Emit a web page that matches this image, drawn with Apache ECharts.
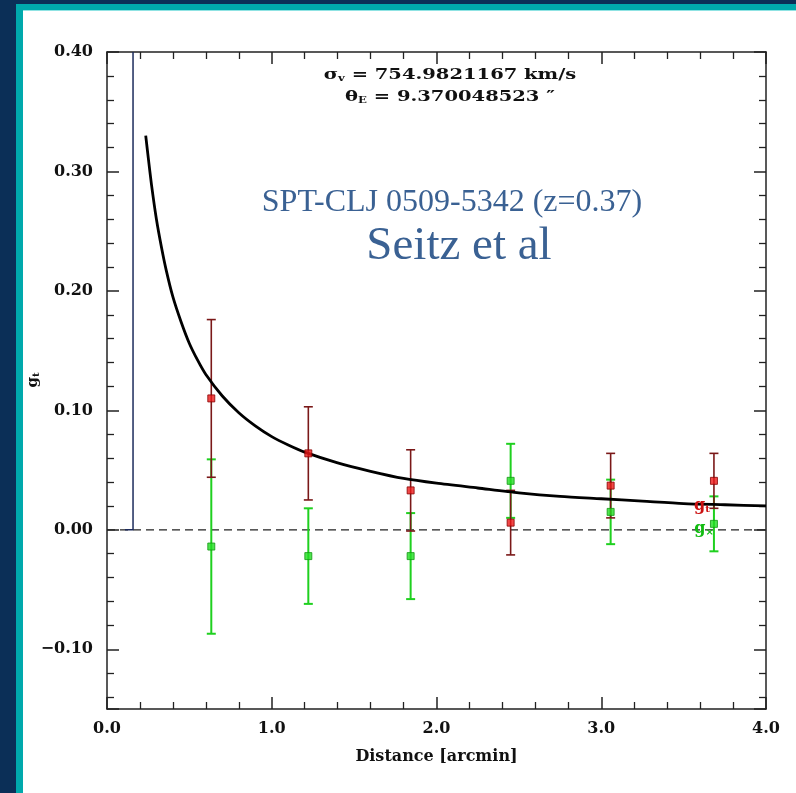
<!DOCTYPE html>
<html>
<head>
<meta charset="utf-8">
<script src="https://cdn.jsdelivr.net/npm/echarts@6/dist/echarts.min.js"></script>
<style>
html,body{margin:0;padding:0;background:#fff;}
#chart{width:796px;height:793px;}
</style>
</head>
<body>
<div id="chart"></div>
<script>
// ---- Data ----
const binX   = [0.633, 1.222, 1.843, 2.450, 3.057, 3.684];
const gT     = [0.110, 0.064, 0.033, 0.006, 0.037, 0.041];
const gTErr  = [0.066, 0.039, 0.034, 0.027, 0.027, 0.023];
const gX     = [-0.014, -0.022, -0.022, 0.041, 0.015, 0.005];
const gXErr  = [0.073, 0.040, 0.036, 0.031, 0.027, 0.023];
const modelX = [0.235, 0.25, 0.27, 0.30, 0.33, 0.36, 0.40, 0.45, 0.50, 0.55, 0.60, 0.70, 0.80, 0.90, 1.00, 1.10, 1.20, 1.40, 1.60, 1.80, 2.00, 2.25, 2.50, 2.75, 3.00, 3.25, 3.50, 3.75, 4.00];
const modelY = [0.330, 0.312, 0.289, 0.260, 0.237, 0.217, 0.195, 0.174, 0.156, 0.142, 0.130, 0.112, 0.098, 0.087, 0.078, 0.071, 0.065, 0.056, 0.049, 0.043, 0.039, 0.035, 0.031, 0.028, 0.026, 0.024, 0.022, 0.021, 0.020];
const thetaELineX = [0.109, 0.158, 0.158];
const thetaELineY = [0.0, 0.0, 0.40];
const zeroLineX = [0, 4];
const zeroLineY = [0, 0];
const xTicks = [0, 1, 2, 3, 4];
const yRange = [-0.15, 0.40];

// ---- Build ----
const chart = echarts.init(document.getElementById('chart'), null, {renderer: 'canvas'});
const tickFont = {fontFamily: 'DejaVu Serif', fontWeight: 'bold', fontSize: 16, color: '#111'};
const axisCol = '#222';

function errData(xs, vs, es) { return xs.map((x, i) => [x, vs[i] - es[i], vs[i] + es[i]]); }
function errRender(color, width) {
  return function (params, api) {
    const x = api.value(0);
    const lo = api.coord([x, api.value(1)]);
    const hi = api.coord([x, api.value(2)]);
    const hw = 4.5;
    const st = {stroke: color, lineWidth: width};
    return {type: 'group', children: [
      {type: 'line', shape: {x1: lo[0], y1: lo[1], x2: hi[0], y2: hi[1]}, style: st},
      {type: 'line', shape: {x1: lo[0] - hw, y1: lo[1], x2: lo[0] + hw, y2: lo[1]}, style: st},
      {type: 'line', shape: {x1: hi[0] - hw, y1: hi[1], x2: hi[0] + hw, y2: hi[1]}, style: st}
    ]};
  };
}
function pairs(xs, ys) { return xs.map((x, i) => [x, ys[i]]); }

const baseX = {
  type: 'value', min: xTicks[0], max: xTicks[xTicks.length - 1], interval: 1,
  axisLine: {show: true, onZero: false, lineStyle: {color: axisCol, width: 1.5}},
  axisTick: {show: true, inside: true, length: 12, lineStyle: {color: axisCol, width: 1.5}},
  minorTick: {show: true, splitNumber: 5, length: 7, lineStyle: {color: axisCol, width: 1.3}},
  splitLine: {show: false}
};
const baseY = {
  type: 'value', min: yRange[0], max: yRange[1], splitNumber: 5,
  axisLine: {show: true, onZero: false, lineStyle: {color: axisCol, width: 1.5}},
  axisTick: {show: true, inside: true, length: 12, lineStyle: {color: axisCol, width: 1.5}},
  minorTick: {show: true, splitNumber: 5, length: 7, lineStyle: {color: axisCol, width: 1.3}},
  splitLine: {show: false}
};
const subRich = (col, big, small, pad) => ({
  a: {font: 'bold ' + big + 'px DejaVu Serif', fill: col},
  s: {font: 'bold ' + small + 'px DejaVu Serif', fill: col, verticalAlign: 'bottom', padding: [pad, 0, 0, 0]}
});

const option = {
  backgroundColor: '#ffffff',
  animation: false,
  grid: {left: 107, right: 30, top: 52, bottom: 84},
  xAxis: [
    Object.assign({}, baseX, {
      position: 'bottom',
      axisLabel: Object.assign({margin: 12, formatter: v => v.toFixed(1)}, tickFont),
      name: 'Distance [arcmin]', nameLocation: 'middle', nameGap: 40,
      nameTextStyle: {fontFamily: 'DejaVu Serif', fontWeight: 'bold', fontSize: 16, color: '#111'}
    }),
    Object.assign({}, baseX, {position: 'top', axisLabel: {show: false}})
  ],
  yAxis: [
    Object.assign({}, baseY, {
      position: 'left',
      axisLabel: Object.assign({margin: 14, showMinLabel: false,
        formatter: v => (v < 0 ? '\u2212' + Math.abs(v).toFixed(2) : v.toFixed(2))}, tickFont)
    }),
    Object.assign({}, baseY, {position: 'right', axisLabel: {show: false}})
  ],
  series: [
    {type: 'line', data: pairs(zeroLineX, zeroLineY), symbol: 'none',
      lineStyle: {color: '#222', width: 1.2, type: [8, 5]}, z: 1},
    {type: 'line', data: pairs(thetaELineX, thetaELineY), symbol: 'none',
      lineStyle: {color: '#1c2b5c', width: 1.5}, z: 1},
    {type: 'custom', data: errData(binX, gX, gXErr), renderItem: errRender('#1fd01f', 2), z: 2},
    {type: 'custom', data: errData(binX, gT, gTErr), renderItem: errRender('#7a1818', 1.6), z: 3},
    {type: 'line', data: pairs(modelX, modelY), symbol: 'none', smooth: 0.25,
      lineStyle: {color: '#000', width: 2.8}, z: 4},
    {type: 'scatter', data: pairs(binX, gX), symbol: 'rect', symbolSize: 7,
      itemStyle: {color: '#22dd22', borderColor: '#119911', borderWidth: 1}, z: 5},
    {type: 'scatter', data: pairs(binX, gT), symbol: 'rect', symbolSize: 7,
      itemStyle: {color: '#ee1a1a', borderColor: '#880000', borderWidth: 1}, z: 6}
  ],
  graphic: [
    {type: 'rect', shape: {x: 0, y: 0, width: 796, height: 4}, style: {fill: '#0b2f57'}, z: 10},
    {type: 'rect', shape: {x: 0, y: 0, width: 16, height: 793}, style: {fill: '#0b2f57'}, z: 10},
    {type: 'rect', shape: {x: 16, y: 4, width: 780, height: 6}, style: {fill: '#00a9ac'}, z: 11},
    {type: 'rect', shape: {x: 16, y: 4, width: 7, height: 789}, style: {fill: '#00a9ac'}, z: 11},
    {type: 'rect', shape: {x: 23, y: 10, width: 773, height: 1}, style: {fill: '#8fe3e3'}, z: 11},
    {type: 'text', x: 450, y: 75, z: 20, scaleX: 1.3, style: {
      text: '{a|σ}{s|v}{a| = 754.9821167 km/s}', align: 'center', verticalAlign: 'middle',
      rich: subRich('#111', 15, 9, 7)
    }},
    {type: 'text', x: 450, y: 97, z: 20, scaleX: 1.3, style: {
      text: '{a|θ}{s|E}{a| = 9.370048523 \u2033}', align: 'center', verticalAlign: 'middle',
      rich: subRich('#111', 15, 9, 7)
    }},
    {type: 'text', x: 33, y: 380, z: 20, rotation: Math.PI / 2, style: {
      text: '{a|g}{s|t}', align: 'center', verticalAlign: 'middle',
      rich: subRich('#111', 15, 10, 6)
    }},
    {type: 'text', x: 452, y: 203, z: 20, style: {
      text: 'SPT-CLJ 0509-5342 (z=0.37)', align: 'center', verticalAlign: 'middle',
      font: '32px Liberation Serif', fill: '#3a6193'
    }},
    {type: 'text', x: 459, y: 247, z: 20, style: {
      text: 'Seitz et al', align: 'center', verticalAlign: 'middle',
      font: '47px Liberation Serif', fill: '#3a6193'
    }},
    {type: 'text', x: 702, y: 506, z: 20, style: {
      text: '{a|g}{s|t}', align: 'center', verticalAlign: 'middle',
      rich: subRich('#cc1111', 16, 10, 7)
    }},
    {type: 'text', x: 704, y: 529, z: 20, style: {
      text: '{a|g}{s|×}', align: 'center', verticalAlign: 'middle',
      rich: subRich('#11bb11', 16, 10, 7)
    }}
  ]
};
chart.setOption(option);
</script>
</body>
</html>
